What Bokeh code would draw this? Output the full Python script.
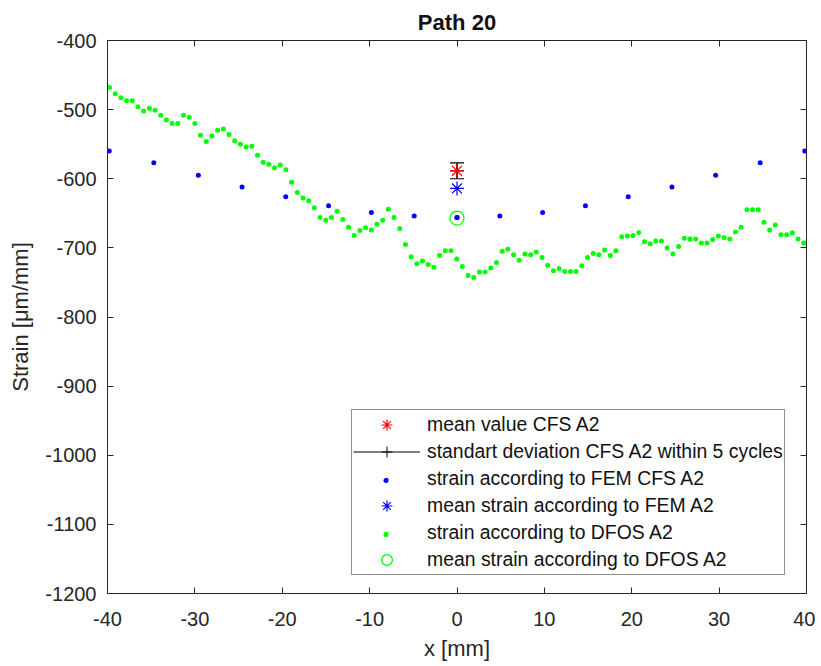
import numpy as np
from bokeh.plotting import figure
from bokeh.models import (Range1d, FixedTicker, LinearAxis, Legend, LegendItem,
                          CustomJSTickFormatter)
from bokeh.embed import file_html
from bokeh.resources import INLINE

# ---------------- data ----------------
x_ticks = [-40, -30, -20, -10, 0, 10, 20, 30, 40]
y_ticks = [-1200, -1100, -1000, -900, -800, -700, -600, -500, -400]

# DFOS samples: regular grid (start, spacing in mm)
dfos_x0 = -39.77
dfos_dx = 0.6513
dfos_strain = [
    -468, -477, -483, -487, -487, -496, -502, -498, -501, -508,
    -515, -520, -520, -508, -511, -520, -537, -546, -538, -530,
    -528, -536, -545, -550, -554, -553, -566, -576, -579, -584,
    -580, -587, -605, -620, -628, -632, -642, -656, -660, -656,
    -647, -659, -670, -682, -675, -671, -674, -666, -660, -644,
    -656, -672, -695, -713, -723, -719, -724, -728, -711, -704,
    -704, -716, -727, -740, -743, -735, -735, -729, -721, -705,
    -702, -710, -718, -709, -710, -706, -714, -725, -733, -730,
    -734, -734, -734, -726, -714, -708, -710, -703, -711, -704,
    -684, -683, -682, -678, -691, -694, -690, -690, -700, -709,
    -698, -686, -687, -687, -693, -693, -688, -683, -685, -687,
    -677, -670, -645, -645, -645, -663, -674, -667, -681, -681,
    -678, -687, -693,
]
dfos_x = [round(dfos_x0 + i * dfos_dx, 3) for i in range(len(dfos_strain))]

fem_x = [-39.8, -34.7, -29.6, -24.6, -19.6, -14.7, -9.8, -4.9, 0.0,
         4.9, 9.8, 14.7, 19.6, 24.6, 29.6, 34.7, 39.8]
fem_strain = [-560, -577, -595, -612, -626, -639, -649, -654, -656,
              -654, -649, -639, -626, -612, -595, -577, -560]

center_x = [0.0]
cfs_mean = [-588.5]
cfs_std = [11.5]
fem_mean = [-614.0]
dfos_mean = [-657.0]

labels = [
    "mean value CFS A2",
    "standart deviation CFS A2 within 5 cycles",
    "strain according to FEM CFS A2",
    "mean strain according to FEM A2",
    "strain according to DFOS A2",
    "mean strain according to DFOS A2",
]

# ---------------- figure ----------------
FONT = "Liberation Sans"
TXT = "#262626"

p = figure(width=815, height=666,
           x_range=Range1d(-40, 40), y_range=Range1d(-1200, -400),
           output_backend="svg", toolbar_location=None,
           min_border_left=107, min_border_right=9,
           min_border_top=40, min_border_bottom=73,
           background_fill_color="white", border_fill_color="white",
           title="Path 20")
p.grid.visible = False
p.outline_line_color = TXT

p.title.align = "center"
p.title.text_font = FONT
p.title.text_font_size = "22px"
p.title.text_font_style = "bold"
p.title.text_color = "#111111"
p.title.standoff = 11

plain = CustomJSTickFormatter(code="return tick.toFixed(0)")
blank = CustomJSTickFormatter(code="return ''")


def style_axis(ax, ticks):
    ax.ticker = FixedTicker(ticks=ticks)
    ax.minor_tick_line_color = None
    ax.major_tick_in = 6
    ax.major_tick_out = 0
    ax.axis_line_color = TXT
    ax.major_tick_line_color = TXT
    ax.major_label_text_font = FONT
    ax.major_label_text_font_size = "20px"
    ax.major_label_text_color = TXT
    ax.axis_label_text_font = FONT
    ax.axis_label_text_font_size = "22px"
    ax.axis_label_text_font_style = "normal"
    ax.axis_label_text_color = TXT


style_axis(p.xaxis[0], x_ticks)
style_axis(p.yaxis[0], y_ticks)
p.xaxis[0].formatter = plain
p.yaxis[0].formatter = plain
p.xaxis[0].axis_label = "x [mm]"
p.yaxis[0].axis_label = "Strain [μm/mm]"
p.xaxis[0].major_label_standoff = 18
p.yaxis[0].major_label_standoff = 11
p.xaxis[0].axis_label_standoff = 7
p.yaxis[0].axis_label_standoff = 9

top_ax = LinearAxis()
right_ax = LinearAxis()
style_axis(top_ax, x_ticks)
style_axis(right_ax, y_ticks)
for ax in (top_ax, right_ax):
    ax.formatter = blank
    ax.major_label_standoff = 0
p.add_layout(top_ax, "above")
p.add_layout(right_ax, "right")

# ---------------- glyphs ----------------
lo = [m - s for m, s in zip(cfs_mean, cfs_std)]
hi = [m + s for m, s in zip(cfs_mean, cfs_std)]

eb_cross = p.scatter(center_x, cfs_mean, marker="cross", size=14,
                     line_color="black", line_width=1)
eb_stem = p.segment(x0=center_x, y0=lo, x1=center_x, y1=hi,
                    line_color="black", line_width=1.2)
p.scatter(center_x * 2, lo + hi, marker="dash", size=14,
          line_color="black", line_width=1.2)
r_mean = p.scatter(center_x, cfs_mean, marker="asterisk", size=14,
                   line_color="#ff0000", line_width=1.2)

DOT = dict(marker="dot", size=20, line_width=1)
r_fem = p.scatter(fem_x, fem_strain, line_color="#0000ff",
                  fill_color="#0000ff", **DOT)
r_femm = p.scatter(center_x, fem_mean, marker="asterisk", size=14,
                   line_color="#0000ff", line_width=1.2)
r_dfos = p.scatter(dfos_x, dfos_strain, line_color="#00ff00",
                   fill_color="#00ff00", **DOT)
r_dfosm = p.scatter(center_x, dfos_mean, marker="circle", size=14,
                    line_color="#00ff00", fill_color=None, line_width=1.3)
# FEM point at the centre drawn above the DFOS mean circle
p.scatter(center_x, [fem_strain[fem_x.index(0.0)]], line_color="#0000ff",
          fill_color="#0000ff", **DOT)

# ---------------- legend ----------------
LX, LY, PAD, ROW, GW = 244, 18, 1, 27, 67
items = [
    LegendItem(label=labels[0], renderers=[r_mean]),
    LegendItem(label=labels[1], renderers=[eb_stem, eb_cross]),
    LegendItem(label=labels[2], renderers=[r_fem]),
    LegendItem(label=labels[3], renderers=[r_femm]),
    LegendItem(label=labels[4], renderers=[r_dfos]),
    LegendItem(label=labels[5], renderers=[r_dfosm]),
]
legend = Legend(items=items, location=(LX, LY), margin=0, padding=PAD,
                spacing=0, glyph_width=GW, glyph_height=ROW, label_height=ROW,
                label_standoff=7, label_text_font=FONT,
                label_text_font_size="19.4px", label_text_color="#111111",
                border_line_color=TXT, border_line_width=1,
                background_fill_color="white", background_fill_alpha=1.0)
p.add_layout(legend)

# larger dot glyphs for the two "dot" rows (transparent overlay legends)
BIG = 50
for row, rend in ((2, r_fem), (4, r_dfos)):
    cy = LY + PAD + (5 - row) * ROW + ROW / 2
    ov = Legend(items=[LegendItem(label=" ", renderers=[rend])],
                location=(LX + PAD, cy - BIG / 2), margin=0, padding=0,
                spacing=0, glyph_width=GW, glyph_height=BIG, label_height=BIG,
                label_standoff=0, label_text_font_size="1px",
                border_line_color=None, background_fill_alpha=0.0)
    p.add_layout(ov)

open("out.html", "w").write(file_html(p, INLINE))
